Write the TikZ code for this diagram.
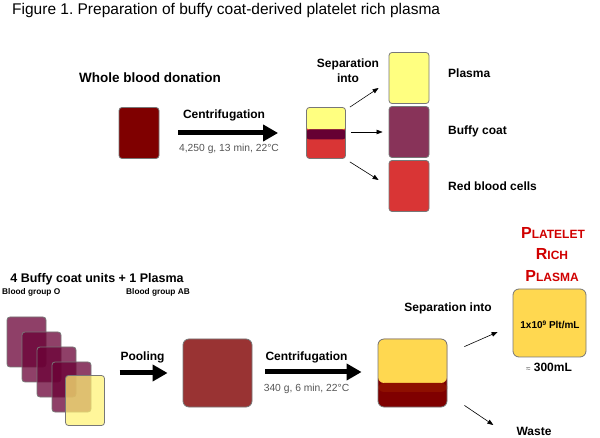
\documentclass[tikz,border=0pt]{standalone}
\usepackage{fontspec}
\setmainfont{Liberation Sans}
\usetikzlibrary{arrows.meta}
\frenchspacing
\definecolor{wbred}{HTML}{7F0000}
\definecolor{plasmay}{HTML}{FFFF80}
\definecolor{buffy}{HTML}{883359}
\definecolor{rbc}{HTML}{D93535}
\definecolor{band}{HTML}{660033}
\definecolor{stackp}{HTML}{6A0035}
\definecolor{pooled}{HTML}{993333}
\definecolor{gold}{HTML}{FFD850}
\definecolor{prpred}{HTML}{D00000}
\definecolor{graytxt}{HTML}{555555}
\definecolor{edge}{HTML}{777777}
\tikzset{
  bag/.style={draw=edge, line width=0.8pt, rounded corners=3pt, minimum width=40pt, minimum height=51pt, inner sep=0pt},
  bigbag/.style={draw=edge, line width=0.8pt, rounded corners=6pt, minimum width=69pt, minimum height=68pt, inner sep=0pt},
  lbl/.style={font=\bfseries\fontsize{12}{14}\selectfont, inner sep=0pt},
  cond/.style={text=graytxt, font=\fontsize{10.3}{12}\selectfont, inner sep=0pt},
  prpline/.style={text=prpred, inner sep=0pt, anchor=base},
  fatarrow/.style={line width=5pt, -{Triangle[length=15pt,width=16pt]}},
  thinarrow/.style={line width=0.6pt, -{Triangle[length=6pt,width=4.5pt]}},
}
\newcommand{\capbig}[1]{{\fontsize{16}{18}\selectfont #1}}
\newcommand{\capsml}[1]{{\fontsize{12}{14}\selectfont #1}}
\begin{document}
\begin{tikzpicture}[x=1pt,y=-1pt]
\useasboundingbox (0,0) rectangle (600,438);
% title
\node[anchor=west, inner sep=0pt, font=\fontsize{15.5}{17}\selectfont] (title) at (12,10) {Figure 1. Preparation of buffy coat-derived platelet rich plasma};
% top row
\node[lbl, font=\bfseries\fontsize{13.5}{15}\selectfont] (wbl) at (150,78) {Whole blood donation};
\node[bag, fill=wbred] (wb) at (139,133) {};
\node[lbl] (c1) at (224,115) {Centrifugation};
\node[cond] (c1c) at (229,149) {4,250 g, 13 min, 22°C};
\node[bag, fill=rbc, minimum width=39pt, path picture={
  \fill[plasmay] (path picture bounding box.north west) rectangle ([yshift=-22pt]path picture bounding box.north east);
  \fill[band] ([yshift=-22pt]path picture bounding box.north west) rectangle ([yshift=-32pt]path picture bounding box.north east);
}] (sep1) at (326,133) {};
\draw[fatarrow] ([xshift=19pt]wb.east) -- ([xshift=-28pt]sep1.west);
\node[lbl, align=center, font=\bfseries\fontsize{12}{15}\selectfont] (sepl1) at (348,71) {Separation\\into};
\node[bag, fill=plasmay] (pl) at (409,78) {};
\node[bag, fill=buffy] (bc) at (409,132) {};
\node[bag, fill=rbc] (rb) at (409,186) {};
\node[lbl, anchor=west] (pll) at (448,73) {Plasma};
\node[lbl, anchor=west] (bcl) at (448,131) {Buffy coat};
\node[lbl, anchor=west] (rbl) at (448,186) {Red blood cells};
\draw[thinarrow] ([xshift=4pt]sep1.north east) -- ([xshift=-10pt,yshift=-10pt]pl.west);
\draw[thinarrow] ([xshift=5pt,yshift=1pt]sep1.east) -- ([xshift=-6pt]bc.west);
\draw[thinarrow] ([xshift=4pt,yshift=-3pt]sep1.south east) -- ([xshift=-10pt,yshift=6pt]rb.west);
% bottom row
\node[lbl, font=\bfseries\fontsize{12.5}{14}\selectfont] (units) at (97,279) {4 Buffy coat units + 1 Plasma};
\node[lbl, font=\bfseries\fontsize{8.3}{9}\selectfont, anchor=west] (bgo) at (2,292) {Blood group O};
\node[lbl, font=\bfseries\fontsize{8.3}{9}\selectfont, anchor=west] (bgab) at (126,292) {Blood group AB};
\node[bag, fill=stackp, fill opacity=0.75, minimum width=39pt, minimum height=50pt] (s1) at (26.5,342) {};
\node[bag, fill=stackp, fill opacity=0.75, minimum width=39pt, minimum height=50pt] (s2) at (41.5,357) {};
\node[bag, fill=stackp, fill opacity=0.75, minimum width=39pt, minimum height=50pt] (s3) at (56.5,372) {};
\node[bag, fill=stackp, fill opacity=0.75, minimum width=39pt, minimum height=50pt] (s4) at (71.5,387) {};
\node[bag, fill=plasmay!90!orange, fill opacity=0.72, minimum width=39pt, minimum height=50pt] (s5) at (85,400.5) {};
\node[lbl] (pool) at (142.5,357) {Pooling};
\node[bigbag, fill=pooled] (pooledbag) at (217.5,373) {};
\draw[fatarrow] ([xshift=-63pt]pooledbag.west) -- ([xshift=-15pt]pooledbag.west);
\node[lbl] (c2) at (306.5,357) {Centrifugation};
\node[cond] (c2c) at (306.5,389) {340 g, 6 min, 22°C};
\node[bigbag, fill=wbred, path picture={
  \fill[gold] (path picture bounding box.north west) rectangle ([yshift=-44pt]path picture bounding box.north east);
  \fill[wbred!88!orange] ([yshift=-44pt]path picture bounding box.north west) rectangle ([yshift=-53pt]path picture bounding box.north east);
}] (sep2) at (412.5,373) {};
\draw[fatarrow] ([xshift=13pt,yshift=1pt]pooledbag.east) -- ([xshift=-16pt,yshift=1pt]sep2.west);
\node[lbl] (sepl2) at (448,308) {Separation into};
\node[bigbag, fill=gold, minimum width=73pt] (prp) at (549.5,323) {};
\node[lbl, font=\bfseries\fontsize{10}{12}\selectfont] (conc) at (550,325) {1x10\raisebox{0.65ex}{\fontsize{6.5}{7}\selectfont 9} Plt/mL};
\node[lbl, anchor=base] (vol) at (549,372) {{\mdseries\color{graytxt}\fontsize{8}{9}\selectfont ≈} 300mL};
\node[lbl, prpline] (prp1) at (553,238.5) {\capbig{P}\capsml{LATELET}};
\node[lbl, prpline] (prp2) at (552,259.5) {\capbig{R}\capsml{ICH}};
\node[lbl, prpline] (prp3) at (552,281.5) {\capbig{P}\capsml{LASMA}};
\node[lbl] (waste) at (534,431) {Waste};
\draw[thinarrow] ([xshift=17pt,yshift=-8pt]sep2.north east) -- ([xshift=-15pt,yshift=-9pt]prp.west);
\draw[thinarrow] ([xshift=17pt,yshift=2pt]sep2.south east) -- ([xshift=-23pt,yshift=6pt]waste.west);
\end{tikzpicture}
\end{document}
